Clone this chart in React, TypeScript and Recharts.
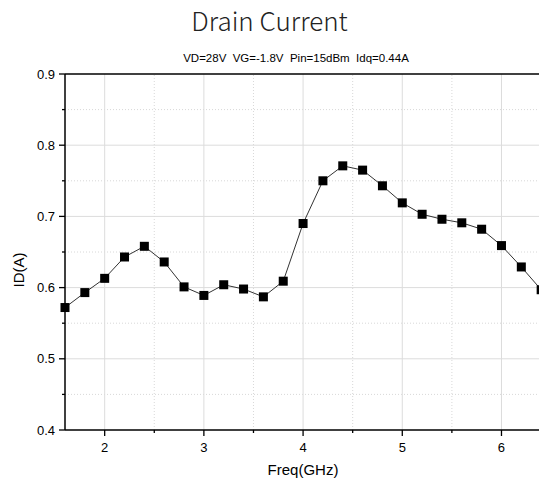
import { LineChart, Line, XAxis, YAxis, ReferenceLine } from 'recharts';

// Drain current vs. frequency (VD=28V, VG=-1.8V, Pin=15dBm, Idq=0.44A)
const freq = [1.6, 1.8, 2.0, 2.2, 2.4, 2.6, 2.8, 3.0, 3.2, 3.4, 3.6, 3.8, 4.0, 4.2, 4.4, 4.6, 4.8, 5.0, 5.2, 5.4, 5.6, 5.8, 6.0, 6.2, 6.4];
const drainCurrent = [0.572, 0.593, 0.613, 0.643, 0.658, 0.636, 0.601, 0.589, 0.604, 0.598, 0.587, 0.609, 0.690, 0.750, 0.771, 0.765, 0.743, 0.719, 0.703, 0.696, 0.691, 0.682, 0.659, 0.629, 0.597];

const xTicks = [2, 2.5, 3, 3.5, 4, 4.5, 5, 5.5, 6, 6.5];
const yTicks = [0.4, 0.45, 0.5, 0.55, 0.6, 0.65, 0.7, 0.75, 0.8, 0.85, 0.9];
const xGridMajor = [2, 3, 4, 5, 6];
const xGridMinor = [2.5, 3.5, 4.5, 5.5, 6.5];
const yGridMajor = [0.5, 0.6, 0.7, 0.8];
const yGridMinor = [0.45, 0.55, 0.65, 0.75, 0.85];

const data = freq.map((f, i) => ({ freq: f, id: drainCurrent[i] }));

const FONT = 'Arial, "Liberation Sans", sans-serif';

const isMajor = (v: number, step: number) => Math.abs(v / step - Math.round(v / step)) < 1e-6;

function XTick(props: any) {
  const { x, y, payload } = props;
  const major = isMajor(payload.value, 1);
  return (
    <g>
      <line x1={x} x2={x} y1={y} y2={y + (major ? 6 : 3)} stroke="#000" strokeWidth={1.3} />
      {major && (
        <text x={x} y={y + 22} textAnchor="middle" fontSize={13} fontFamily={FONT} fill="#000">
          {payload.value}
        </text>
      )}
    </g>
  );
}

function YTick(props: any) {
  const { x, y, payload } = props;
  const major = isMajor(payload.value, 0.1);
  return (
    <g>
      <line x1={x} x2={x - (major ? 6 : 3)} y1={y} y2={y} stroke="#000" strokeWidth={1.3} />
      {major && (
        <text x={x - 10} y={y + 4.5} textAnchor="end" fontSize={13} fontFamily={FONT} fill="#000">
          {payload.value.toFixed(1)}
        </text>
      )}
    </g>
  );
}

function SquareDot(props: any) {
  const { cx, cy } = props;
  if (cx == null || cy == null) return null;
  return <rect x={cx - 4.5} y={cy - 4.5} width={9} height={9} fill="#000" />;
}

export default function App() {
  return (
    <div style={{ position: 'fixed', left: 0, top: 0, width: 539, height: 487, overflow: 'hidden', background: '#fff' }}>
      <div style={{ position: 'absolute', left: 0, top: 5, width: 539, textAlign: 'center', fontSize: 26, lineHeight: '30px', fontFamily: '"Noto Sans CJK SC", "Noto Sans", sans-serif', fontWeight: 300, color: '#222' }}>
        Drain Current
      </div>
      <div style={{ position: 'absolute', left: 146, top: 51, width: 300, textAlign: 'center', fontSize: 11.5, lineHeight: '14px', fontFamily: FONT, color: '#000', whiteSpace: 'pre' }}>
        {'VD=28V  VG=-1.8V  Pin=15dBm  Idq=0.44A'}
      </div>
      <LineChart width={600} height={487} data={data} margin={{ top: 74, right: 39, bottom: 0, left: 0 }}>
        {xGridMinor.map((v) => (
          <ReferenceLine key={'xm' + v} x={v} stroke="#d8d8d8" strokeDasharray="1 2" />
        ))}
        {yGridMinor.map((v) => (
          <ReferenceLine key={'ym' + v} y={v} stroke="#d8d8d8" strokeDasharray="1 2" />
        ))}
        {xGridMajor.map((v) => (
          <ReferenceLine key={'xM' + v} x={v} stroke="#dcdcdc" />
        ))}
        {yGridMajor.map((v) => (
          <ReferenceLine key={'yM' + v} y={v} stroke="#dcdcdc" />
        ))}
        <ReferenceLine y={0.9} stroke="#000" strokeWidth={1.5} />
        <XAxis
          dataKey="freq"
          type="number"
          domain={[1.6, 6.6]}
          ticks={xTicks}
          interval={0}
          height={57}
          tickSize={0}
          tickMargin={0}
          tickLine={false}
          tick={<XTick />}
          axisLine={{ stroke: '#000', strokeWidth: 1.5 }}
        />
        <YAxis
          type="number"
          domain={[0.4, 0.9]}
          ticks={yTicks}
          interval={0}
          width={65}
          tickSize={0}
          tickMargin={0}
          tickLine={false}
          tick={<YTick />}
          axisLine={{ stroke: '#000', strokeWidth: 1.5 }}
        />
        <Line
          type="linear"
          dataKey="id"
          stroke="#333"
          strokeWidth={1}
          dot={<SquareDot />}
          activeDot={false}
          isAnimationActive={false}
        />
      </LineChart>
      <div style={{ position: 'absolute', left: 223, top: 461, width: 160, textAlign: 'center', fontSize: 15, lineHeight: '18px', fontFamily: FONT, color: '#000' }}>
        Freq(GHz)
      </div>
      <div style={{ position: 'absolute', left: -31, top: 261, width: 100, textAlign: 'center', fontSize: 15, lineHeight: '18px', fontFamily: FONT, color: '#000', transform: 'rotate(-90deg)' }}>
        ID(A)
      </div>
    </div>
  );
}
